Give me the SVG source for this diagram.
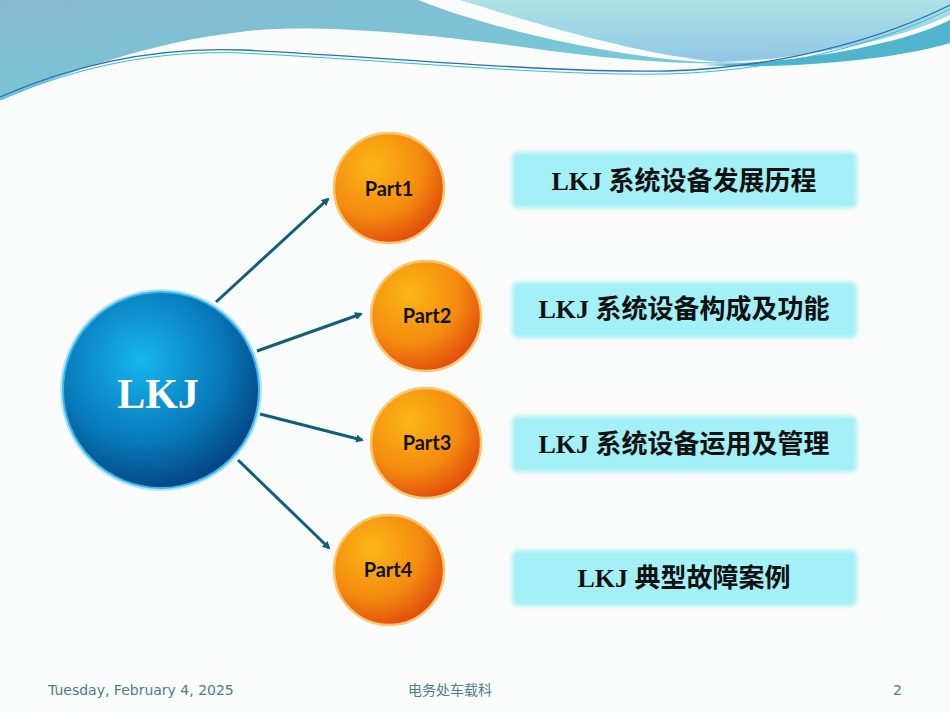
<svg xmlns="http://www.w3.org/2000/svg" width="950" height="713" viewBox="0 0 950 713">
<style>
.lbl{font-family:"Liberation Serif","Noto Sans CJK SC",serif;font-weight:bold;font-size:26px;fill:#111;text-anchor:middle}
.pt{font-family:Lato,"Liberation Sans",sans-serif;font-weight:bold;font-size:20px;fill:#111;text-anchor:middle}
.ft{font-family:"DejaVu Sans","Noto Sans CJK SC",sans-serif;font-size:14px;fill:#4a7e8c}
.box{fill:#a3f0f7;filter:url(#sh)}
.orb{fill:url(#og);stroke:#f8c870;stroke-width:2.5}
.cn{stroke:#0f6077;stroke-width:3;fill:none;marker-end:url(#ah)}
</style>
<defs>
<radialGradient id="og" cx="0.35" cy="0.3" r="0.75"><stop offset="0" stop-color="#fbb715"/><stop offset="0.6" stop-color="#f58b10"/><stop offset="1" stop-color="#e04a0c"/></radialGradient>
<radialGradient id="bg" cx="0.4" cy="0.35" r="0.7"><stop offset="0" stop-color="#17b6ef"/><stop offset="0.6" stop-color="#0878b8"/><stop offset="1" stop-color="#033f7e"/></radialGradient>
<linearGradient id="wv" x1="0" y1="0" x2="1" y2="1"><stop offset="0" stop-color="#88b8cf"/><stop offset="1" stop-color="#6dcfdc"/></linearGradient>
<linearGradient id="wv2" x1="0" y1="0" x2="0" y2="1"><stop offset="0" stop-color="#ade3e5"/><stop offset="1" stop-color="#90c6e6"/></linearGradient>
<filter id="sh" x="-10%" y="-30%" width="120%" height="160%"><feGaussianBlur stdDeviation="2"/></filter>
<marker id="ah" markerWidth="8" markerHeight="8" refX="6" refY="4" orient="auto" markerUnits="userSpaceOnUse"><path d="M0,0 L8,4 L0,8 z" fill="#0f6077"/></marker>
</defs>
<rect width="950" height="713" fill="#fafbfb"/>
<g id="header">
<path d="M0,0 L418,0 C480,25 600,55 700,62 L760,63 C680,66 600,58 530,48 C400,30 300,24 240,32 C150,42 60,75 0,100 z" fill="url(#wv)"/>
<path d="M460,0 L950,0 L950,15 C900,40 800,60 720,62 C640,55 540,25 460,0 z" fill="url(#wv2)"/>
<path d="M950,20 C900,45 800,63 700,65 C800,70 900,58 950,43 z" fill="#4fb4cc"/>
<path d="M0,97 C80,62 160,47 242,50 C400,58 550,73 667,71 C800,67 900,30 950,5" stroke="#2c70b8" stroke-width="1.3" fill="none"/>
<path d="M0,100 C80,65 160,50 242,53 C400,61 550,76 667,74 C800,70 900,34 950,9" stroke="#35c0c8" stroke-width="1" fill="none"/>
</g>
<g id="connectors">
<line class="cn" x1="216" y1="302" x2="328" y2="199"/>
<line class="cn" x1="257" y1="351" x2="361" y2="314"/>
<line class="cn" x1="260" y1="414" x2="362" y2="440"/>
<line class="cn" x1="238" y1="460" x2="329" y2="548"/>
</g>
<g id="lkj">
<circle cx="161" cy="390" r="101" fill="#6fd0f0" opacity="0.5"/>
<circle cx="161" cy="390" r="98" fill="url(#bg)" stroke="#3cb8e8" stroke-width="2"/>
<text x="158" y="408" font-family="Liberation Serif,serif" font-weight="bold" font-size="42" fill="#fff" text-anchor="middle">LKJ</text>
</g>
<g id="part1"><circle class="orb" cx="389" cy="188" r="55"/><text class="pt" x="389" y="196">Part1</text></g>
<g id="part2"><circle class="orb" cx="426" cy="316" r="55"/><text class="pt" x="427" y="323">Part2</text></g>
<g id="part3"><circle class="orb" cx="426" cy="443" r="55"/><text class="pt" x="427" y="450">Part3</text></g>
<g id="part4"><circle class="orb" cx="389" cy="570" r="55"/><text class="pt" x="388" y="577">Part4</text></g>
<g id="box1"><rect class="box" x="512" y="152" width="345" height="56" rx="6"/><text class="lbl" x="684" y="190">LKJ 系统设备发展历程</text></g>
<g id="box2"><rect class="box" x="512" y="282" width="345" height="56" rx="6"/><text class="lbl" x="684" y="318">LKJ 系统设备构成及功能</text></g>
<g id="box3"><rect class="box" x="512" y="416" width="345" height="56" rx="6"/><text class="lbl" x="684" y="453">LKJ 系统设备运用及管理</text></g>
<g id="box4"><rect class="box" x="512" y="550" width="345" height="56" rx="6"/><text class="lbl" x="684" y="587">LKJ 典型故障案例</text></g>
<g id="footer">
<text class="ft" x="48" y="695">Tuesday, February 4, 2025</text>
<text class="ft" x="450" y="695" text-anchor="middle">电务处车载科</text>
<text class="ft" x="902" y="695" text-anchor="end">2</text>
</g>
</svg>
